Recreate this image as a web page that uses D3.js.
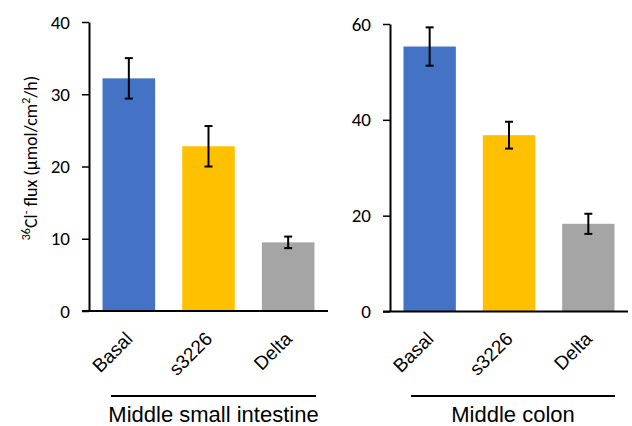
<!DOCTYPE html>
<html>
<head>
<meta charset="utf-8">
<script src="https://cdn.jsdelivr.net/npm/d3@7"></script>
<style>
  html, body { margin: 0; padding: 0; background: #fff; }
  svg { display: block; }
</style>
</head>
<body>
<svg id="chart" width="632" height="426"></svg>
<script>
const categories = ["Basal", "s3226", "Delta"];
const colors = ["#4472C4", "#FFC000", "#A5A5A5"];

const panel1Title = "Middle small intestine";
const panel1Values = [32.2, 22.8, 9.5];
const panel1Errors = [2.8, 2.8, 0.8];
const panel1Ticks = [0, 10, 20, 30, 40];

const panel2Title = "Middle colon";
const panel2Values = [55.3, 36.8, 18.3];
const panel2Errors = [4.0, 2.8, 2.1];
const panel2Ticks = [0, 20, 40, 60];

const svg = d3.select("#chart");
const tickFont = "Calibri, Carlito, 'Open Sans', sans-serif";
const catFont = "Arial, 'Liberation Sans', sans-serif";

function drawPanel(cfg) {
  const g = svg.append("g");
  const x = d3.scaleBand().domain(categories).range([cfg.x0, cfg.x1]).paddingInner(0.34).paddingOuter(0.17);
  const y = d3.scaleLinear().domain([0, cfg.max]).range([cfg.y0, cfg.yTop]);

  g.selectAll("rect.bar").data(cfg.values).join("rect")
    .attr("class", "bar")
    .attr("x", (d, i) => x(categories[i]))
    .attr("width", x.bandwidth())
    .attr("y", d => y(d))
    .attr("height", d => y(0) - y(d))
    .attr("fill", (d, i) => colors[i]);

  const eb = g.selectAll("g.err").data(cfg.values).join("g").attr("class", "err")
    .attr("stroke", "#000").attr("stroke-width", 2);
  eb.append("line")
    .attr("x1", (d, i) => x(categories[i]) + x.bandwidth() / 2)
    .attr("x2", (d, i) => x(categories[i]) + x.bandwidth() / 2)
    .attr("y1", (d, i) => y(d + cfg.errors[i]))
    .attr("y2", (d, i) => y(d - cfg.errors[i]));
  [1, -1].forEach(s => {
    eb.append("line")
      .attr("x1", (d, i) => x(categories[i]) + x.bandwidth() / 2 - 4)
      .attr("x2", (d, i) => x(categories[i]) + x.bandwidth() / 2 + 4)
      .attr("y1", (d, i) => y(d + s * cfg.errors[i]))
      .attr("y2", (d, i) => y(d + s * cfg.errors[i]));
  });

  const ax = g.append("g").attr("transform", `translate(${cfg.x0},0)`)
    .call(d3.axisLeft(y).tickValues(cfg.ticks).tickSize(7).tickSizeOuter(0).tickPadding(12));
  ax.selectAll("path.domain").attr("stroke", "#000").attr("stroke-width", 2);
  ax.selectAll(".tick line").attr("stroke", "#000").attr("stroke-width", 1.5);
  ax.selectAll(".tick text").attr("font-family", tickFont).attr("font-size", 19).attr("fill", "#000");

  g.append("line").attr("x1", cfg.x0 - 7).attr("x2", cfg.x1)
    .attr("y1", y(0)).attr("y2", y(0)).attr("stroke", "#000").attr("stroke-width", 2);

  g.selectAll("text.cat").data(categories).join("text")
    .attr("class", "cat")
    .attr("text-anchor", "end")
    .attr("font-family", catFont).attr("font-size", 19).attr("fill", "#000")
    .attr("transform", d => `translate(${x(d) + x.bandwidth() / 2 + 5},340) rotate(-45)`)
    .text(d => d);

  g.append("line").attr("x1", cfg.lx0).attr("x2", cfg.lx1).attr("y1", 396).attr("y2", 396)
    .attr("stroke", "#000").attr("stroke-width", 2);
  g.append("text").attr("x", (cfg.lx0 + cfg.lx1) / 2).attr("y", 422)
    .attr("text-anchor", "middle").attr("font-family", catFont).attr("font-size", 22)
    .attr("fill", "#000").text(cfg.title);
}

drawPanel({ x0: 89, x1: 328, y0: 311, yTop: 22, max: 40, values: panel1Values, errors: panel1Errors,
  ticks: panel1Ticks, title: panel1Title, lx0: 111, lx1: 316 });
drawPanel({ x0: 390, x1: 628, y0: 311.5, yTop: 24, max: 60, values: panel2Values, errors: panel2Errors,
  ticks: panel2Ticks, title: panel2Title, lx0: 411, lx1: 615 });

const yl = svg.append("text")
  .attr("transform", "translate(37,158) rotate(-90)")
  .attr("text-anchor", "middle")
  .attr("font-family", tickFont).attr("font-size", 18).attr("fill", "#000");
yl.append("tspan").attr("font-size", 12).attr("dy", -7).text("36");
yl.append("tspan").attr("dy", 7).text("Cl");
yl.append("tspan").attr("font-size", 12).attr("dy", -7).text("-");
yl.append("tspan").attr("dy", 7).text(" flux (µmol/cm");
yl.append("tspan").attr("font-size", 12).attr("dy", -7).text("2");
yl.append("tspan").attr("dy", 7).text("/h)");
</script>
</body>
</html>
